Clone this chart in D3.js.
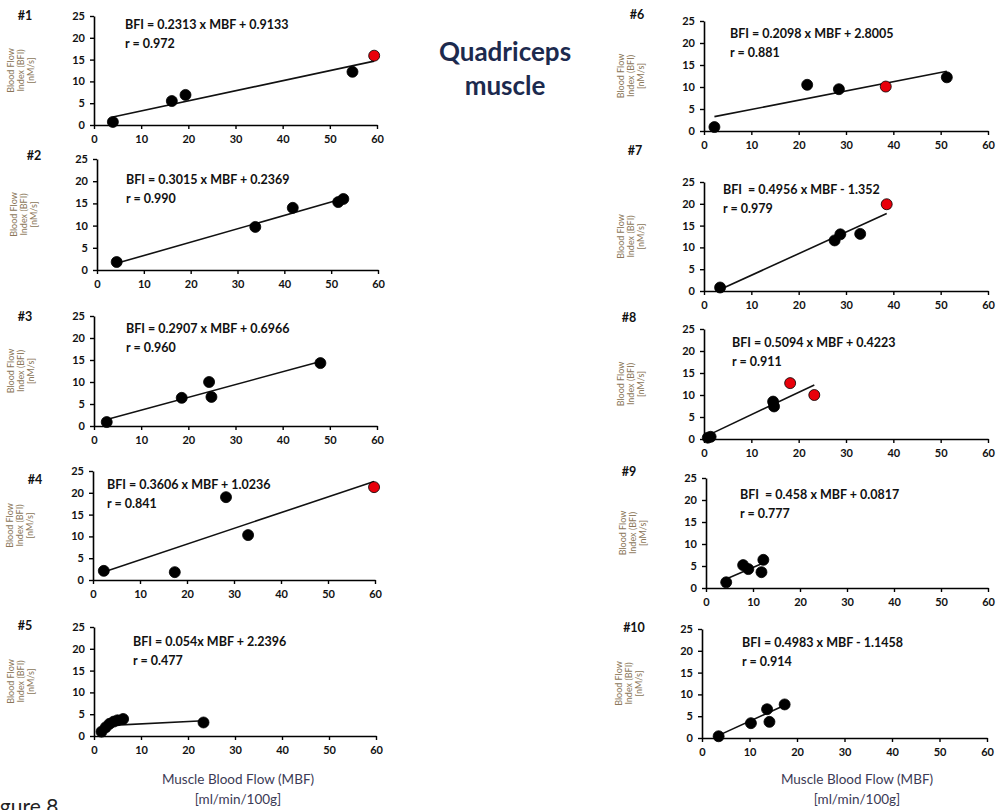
<!DOCTYPE html>
<html>
<head>
<meta charset="utf-8">
<script src="https://cdn.jsdelivr.net/npm/d3@7"></script>
<style>
  body { margin: 0; background: #fff; }
  svg { display: block; }
</style>
</head>
<body>
<svg id="chart" width="999" height="810"></svg>
<script>
// data
var panelNames = ["#1", "#2", "#3", "#4", "#5", "#6", "#7", "#8", "#9", "#10"];
var xTicks = [0, 10, 20, 30, 40, 50, 60];
var yTicks = [0, 5, 10, 15, 20, 25];

var mbf1 = [4.0, 16.5, 19.4, 54.8, 59.4];
var bfi1 = [0.7, 5.5, 6.9, 12.2, 15.9];
var mbf2 = [4.2, 33.8, 41.8, 51.5, 52.6];
var bfi2 = [1.8, 9.7, 14.0, 15.3, 16.0];
var mbf3 = [2.7, 18.6, 24.4, 24.9, 48.0];
var bfi3 = [0.9, 6.4, 10.0, 6.6, 14.3];
var mbf4 = [2.3, 17.4, 28.3, 33.0, 59.8];
var bfi4 = [2.1, 1.8, 19.0, 10.3, 21.3];
var mbf5 = [1.6, 2.5, 3.3, 4.2, 5.0, 6.2, 23.3];
var bfi5 = [1.0, 2.0, 2.8, 3.3, 3.6, 3.9, 3.1];
var mbf6 = [2.2, 21.8, 28.5, 38.4, 51.3];
var bfi6 = [0.9, 10.5, 9.5, 10.1, 12.2];
var mbf7 = [3.4, 27.6, 28.8, 33.0, 38.6];
var bfi7 = [0.8, 11.6, 13.0, 13.1, 19.9];
var mbf8 = [0.8, 1.4, 14.6, 14.8, 18.2, 23.3];
var bfi8 = [0.3, 0.5, 8.5, 7.4, 12.7, 10.0];
var mbf9 = [4.3, 7.9, 9.0, 11.8, 12.2];
var bfi9 = [1.3, 5.2, 4.3, 3.6, 6.4];
var mbf10 = [3.5, 10.3, 13.7, 14.2, 17.4];
var bfi10 = [0.4, 3.4, 6.6, 3.7, 7.7];

// which points are drawn red (index into each panel)
var redIdx = [[4], [], [], [4], [], [3], [4], [4, 5], [], []];

var slopes = [0.2313, 0.3015, 0.2907, 0.3606, 0.054, 0.2098, 0.4956, 0.5094, 0.458, 0.4983];
var intercepts = [0.9133, 0.2369, 0.6966, 1.0236, 2.2396, 2.8005, -1.352, 0.4223, 0.0817, -1.1458];
var eqLabels = [
  "BFI = 0.2313 x MBF + 0.9133",
  "BFI = 0.3015 x MBF + 0.2369",
  "BFI = 0.2907 x MBF + 0.6966",
  "BFI = 0.3606 x MBF + 1.0236",
  "BFI = 0.054x MBF + 2.2396",
  "BFI = 0.2098 x MBF + 2.8005",
  "BFI  = 0.4956 x MBF - 1.352",
  "BFI = 0.5094 x MBF + 0.4223",
  "BFI  = 0.458 x MBF + 0.0817",
  "BFI = 0.4983 x MBF - 1.1458"
];
var rLabels = ["r = 0.972", "r = 0.990", "r = 0.960", "r = 0.841", "r = 0.477",
               "r = 0.881", "r = 0.979", "r = 0.911", "r = 0.777", "r = 0.914"];

var allX = [mbf1, mbf2, mbf3, mbf4, mbf5, mbf6, mbf7, mbf8, mbf9, mbf10];
var allY = [bfi1, bfi2, bfi3, bfi4, bfi5, bfi6, bfi7, bfi8, bfi9, bfi10];

// panel placement (pixels)
var layout = [
  {x0: 94,  x1: 377, yb: 125, yt: 16,  nx: 25,  ny: 16,  ex: 125, ey: 25},
  {x0: 97,  x1: 378, yb: 270, yt: 159, nx: 34,  ny: 156, ex: 126, ey: 180},
  {x0: 94,  x1: 377, yb: 426, yt: 316, nx: 25,  ny: 317, ex: 126, ey: 329},
  {x0: 93,  x1: 375, yb: 580, yt: 471, nx: 35,  ny: 480, ex: 107, ey: 485},
  {x0: 94,  x1: 376, yb: 736, yt: 627, nx: 25,  ny: 626, ex: 133, ey: 642},
  {x0: 704, x1: 988, yb: 131, yt: 21,  nx: 637, ny: 15,  ex: 730, ey: 34},
  {x0: 704, x1: 988, yb: 291, yt: 182, nx: 635, ny: 151, ex: 723, ey: 190},
  {x0: 704, x1: 988, yb: 439, yt: 329, nx: 629, ny: 318, ex: 732, ey: 343},
  {x0: 706, x1: 988, yb: 588, yt: 478, nx: 629, ny: 472, ex: 740, ey: 495},
  {x0: 702, x1: 987, yb: 738, yt: 629, nx: 634, ny: 628, ex: 742, ey: 643}
];

var svg = d3.select("#chart");
var font = "Lato, 'Open Sans', sans-serif";

function drawPanel(i) {
  var L = layout[i];
  var x = d3.scaleLinear().domain([0, 60]).range([L.x0, L.x1]);
  var y = d3.scaleLinear().domain([0, 25]).range([L.yb, L.yt]);
  var g = svg.append("g").attr("class", "panel");

  var xAxis = g.append("g")
    .attr("transform", "translate(0," + L.yb + ")")
    .call(d3.axisBottom(x).tickValues(xTicks).tickSizeInner(4).tickSizeOuter(0).tickPadding(6));
  var yAxis = g.append("g")
    .attr("transform", "translate(" + L.x0 + ",0)")
    .call(d3.axisLeft(y).tickValues(yTicks).tickSizeInner(4).tickSizeOuter(0).tickPadding(5));

  [xAxis, yAxis].forEach(function(a) {
    a.select(".domain").attr("stroke", "#000").attr("stroke-width", 1.6);
    a.selectAll(".tick line").attr("stroke", "#000").attr("stroke-width", 1.4);
    a.selectAll(".tick text")
      .attr("fill", "#111")
      .style("font-family", font)
      .style("font-size", "11px")
      .style("font-weight", "bold");
  });

  // y axis title, three rotated lines
  var yt = g.append("text")
    .attr("transform", "translate(" + (L.x0 - 80) + "," + ((L.yb + L.yt) / 2) + ") rotate(-90)")
    .attr("text-anchor", "middle")
    .attr("fill", "#8a7658")
    .style("font-family", font)
    .style("font-size", "9px");
  ["Blood Flow", "Index (BFI)", "[nM/s]"].forEach(function(t, k) {
    yt.append("tspan").attr("x", 0).attr("dy", k == 0 ? 0 : 10).text(t);
  });

  // panel number
  g.append("text")
    .attr("x", L.nx).attr("y", L.ny + 4)
    .attr("text-anchor", "middle")
    .style("font-family", font).style("font-size", "12.5px").style("font-weight", "bold")
    .attr("fill", "#111")
    .text(panelNames[i]);

  // regression line over the data range
  var xs = allX[i];
  var lo = d3.min(xs), hi = d3.max(xs);
  g.append("line")
    .attr("x1", x(lo)).attr("y1", y(slopes[i] * lo + intercepts[i]))
    .attr("x2", x(hi)).attr("y2", y(slopes[i] * hi + intercepts[i]))
    .attr("stroke", "#111").attr("stroke-width", 1.6);

  var pts = xs.map(function(v, k) { return {mbf: v, bfi: allY[i][k], red: redIdx[i].indexOf(k) >= 0}; });
  g.selectAll("circle.dot").data(pts).enter().append("circle")
    .attr("class", "dot")
    .attr("cx", function(d) { return x(d.mbf); })
    .attr("cy", function(d) { return y(d.bfi); })
    .attr("r", 5.5)
    .attr("fill", function(d) { return d.red ? "#e8000b" : "#000"; })
    .attr("stroke", "#000").attr("stroke-width", 0.8);

  g.append("text")
    .attr("x", L.ex).attr("y", L.ey + 4)
    .style("font-family", font).style("font-size", "12.5px").style("font-weight", "bold")
    .attr("fill", "#111")
    .attr("xml:space", "preserve")
    .text(eqLabels[i]);
  g.append("text")
    .attr("x", L.ex).attr("y", L.ey + 23)
    .style("font-family", font).style("font-size", "12.5px").style("font-weight", "bold")
    .attr("fill", "#111")
    .text(rLabels[i]);
}

for (var i = 0; i < 10; i++) drawPanel(i);

// x axis titles under the bottom panels
[[238, 784], [857, 784]].forEach(function(p) {
  var t = svg.append("text")
    .attr("x", p[0]).attr("y", p[1])
    .attr("text-anchor", "middle")
    .attr("fill", "#3b3a55")
    .style("font-family", font).style("font-size", "13.5px");
  t.append("tspan").attr("x", p[0]).attr("dy", 0).text("Muscle Blood Flow (MBF)");
  t.append("tspan").attr("x", p[0]).attr("dy", 20).text("[ml/min/100g]");
});

// main title
var title = svg.append("text")
  .attr("x", 505).attr("y", 61)
  .attr("text-anchor", "middle")
  .attr("fill", "#1c2a4e")
  .style("font-family", font).style("font-size", "26px").style("font-weight", "bold");
title.append("tspan").attr("x", 505).attr("dy", 0).text("Quadriceps");
title.append("tspan").attr("x", 505).attr("dy", 34).text("muscle");

// figure caption, sitting at the page's bottom-left corner as in the source
svg.append("text")
  .attr("x", -17).attr("y", 814)
  .attr("fill", "#222")
  .style("font-family", font).style("font-size", "21px")
  .text("Figure 8.");
</script>
</body>
</html>
